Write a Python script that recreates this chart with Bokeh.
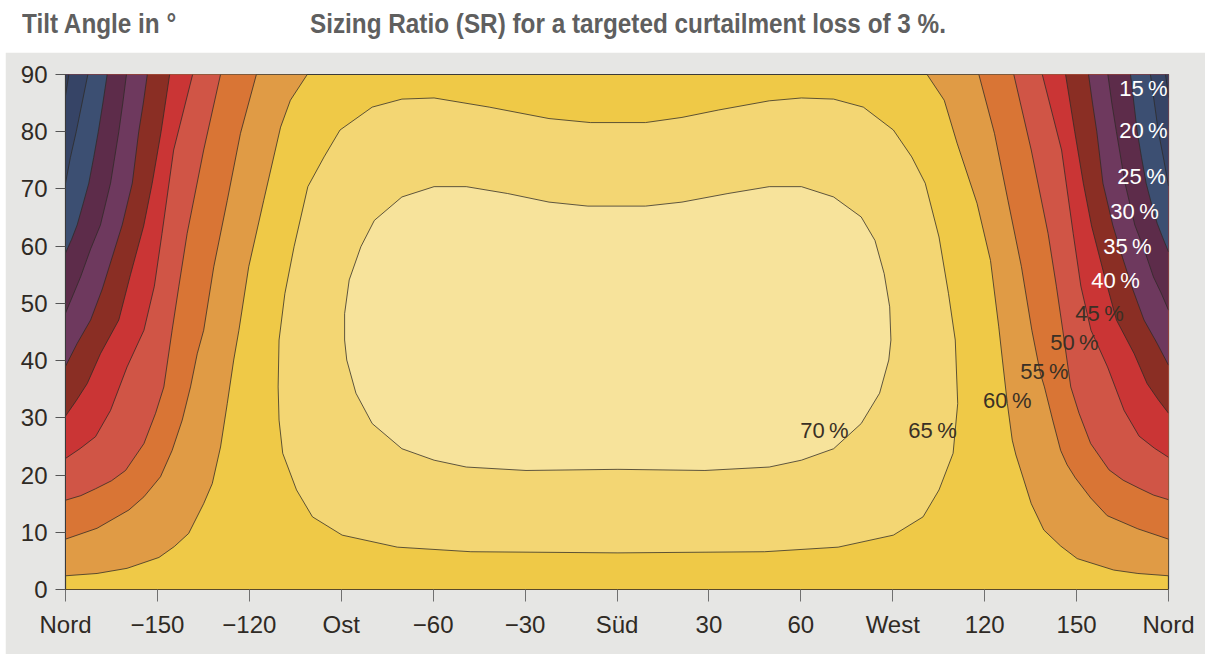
from bokeh.plotting import figure
from bokeh.models import FixedTicker, Div, ColumnDataSource
from bokeh.layouts import column
from bokeh.embed import file_html
from bokeh.resources import INLINE
from bokeh.core.properties import value

# ---------------- data ----------------
TITLE_LEFT = "Tilt Angle in °"
TITLE_MAIN = "Sizing Ratio (SR) for a targeted curtailment loss of 3 %."

X_TICKS = [-180, -150, -120, -90, -60, -30, 0, 30, 60, 90, 120, 150, 180]
X_TICK_LABELS = ["Nord", "\u2212150", "\u2212120", "Ost", "\u221260", "\u221230", "Süd",
                 "30", "60", "West", "120", "150", "Nord"]
Y_TICKS = [0, 10, 20, 30, 40, 50, 60, 70, 80, 90]

# contour lines (azimuth °, tilt °); left curves run from the left edge to the top edge
C15_LEFT = [(-180, 86.3), (-179.4, 88.3), (-178.9, 90)]
C20_LEFT = [(-180, 71.0), (-178.4, 75.5), (-176.5, 80.0), (-174.6, 85.0), (-172.7, 90)]
C25_LEFT = [(-180, 58.8), (-178.0, 61.2), (-176.2, 63.7), (-174.2, 67.5), (-172.4, 71.0),
            (-170.8, 75.5), (-169.3, 80.0), (-167.8, 85.0), (-166.4, 90)]
C30_LEFT = [(-180, 48.3), (-177.5, 51.5), (-175.1, 54.6), (-171.8, 59.5), (-168.6, 63.7),
            (-165.3, 71.0), (-162.6, 80.0), (-161.3, 85.0), (-160.1, 90)]
C35_LEFT = [(-180, 39.0), (-176.2, 43.0), (-171.8, 47.1), (-168.0, 52.5), (-164.8, 58.0),
            (-161.5, 63.7), (-158.2, 71.0), (-156.1, 80.0), (-154.6, 85.0), (-153.3, 90)]
C40_LEFT = [(-180, 30.3), (-176.5, 33.0), (-172.9, 36.0), (-168.6, 41.2), (-162.6, 47.1),
            (-158.8, 55.0), (-154.5, 63.5), (-151.7, 71.0), (-148.8, 80.0), (-146.0, 90)]
C45_LEFT = [(-180, 22.9), (-175.3, 24.6), (-170.2, 26.7), (-165.3, 31.3), (-159.9, 38.9),
            (-154.4, 45.3), (-151.0, 53.0), (-148.5, 62.2), (-144.7, 76.8), (-138.5, 90)]
C50_LEFT = [(-180, 15.6), (-175.0, 16.4), (-170.2, 17.6), (-165.0, 19.0), (-160.4, 20.8),
            (-154.4, 25.5), (-150.6, 30.8), (-147.9, 35.4), (-145.2, 45.3), (-143.0, 53.0),
            (-140.3, 62.2), (-134.9, 76.8), (-129.4, 90)]
C55_LEFT = [(-180, 8.8), (-169.7, 10.7), (-159.3, 13.9), (-154.4, 16.2), (-149.0, 19.7),
            (-145.2, 24.3), (-141.9, 29.6), (-139.2, 35.4), (-137.0, 41.2), (-134.9, 45.3),
            (-131.6, 56.4), (-127.2, 68.0), (-122.9, 79.7), (-117.7, 90)]
C60_LEFT = [(-180, 2.4), (-169.7, 2.8), (-159.9, 3.7), (-149.5, 5.6), (-144.5, 7.5),
            (-139.8, 9.8), (-134.9, 15.0), (-132.1, 18.5), (-129.4, 24.9), (-127.2, 32.5),
            (-125.1, 40.1), (-123.4, 45.3), (-120.2, 56.4), (-115.3, 68.0), (-109.8, 80.8),
            (-106.6, 85.5), (-101.1, 90)]

# right curves run from the right edge to the top edge
C15_RIGHT = [(180, 86.0), (179.5, 88.2), (179.0, 90)]
C20_RIGHT = [(180, 70.5), (178.5, 75.0), (176.7, 80.0), (175.4, 85.0), (174.1, 90)]
C25_RIGHT = [(180, 59.0), (178.1, 61.5), (176.3, 64.0), (174.4, 67.5), (172.7, 71.0),
             (171.2, 75.5), (169.8, 80.0), (168.7, 85.0), (167.6, 90)]
C30_RIGHT = [(180, 48.8), (177.6, 51.8), (175.1, 54.6), (172.0, 59.5), (169.0, 63.7),
             (165.8, 71.0), (163.0, 80.0), (161.5, 85.0), (160.2, 90)]
C35_RIGHT = [(180, 39.2), (176.3, 43.0), (172.0, 47.1), (168.3, 52.5), (165.0, 58.0),
             (161.8, 63.7), (158.6, 71.0), (156.6, 80.0), (155.2, 85.0), (153.9, 90)]
C40_RIGHT = [(180, 30.8), (176.6, 33.2), (173.0, 36.0), (168.8, 41.2), (163.0, 47.1),
             (159.0, 55.0), (154.9, 63.5), (152.2, 71.0), (149.4, 80.0), (146.4, 90)]
C45_RIGHT = [(180, 23.1), (175.4, 24.7), (170.4, 26.8), (165.5, 31.3), (160.1, 38.9),
             (154.7, 45.3), (151.4, 53.0), (148.9, 62.2), (145.1, 76.8), (138.8, 90)]
C50_RIGHT = [(180, 15.7), (175.1, 16.5), (170.4, 17.7), (165.2, 19.1), (160.6, 20.9),
             (154.6, 25.5), (150.8, 30.8), (148.1, 35.4), (145.5, 45.3), (143.4, 53.0),
             (140.7, 62.2), (135.2, 76.8), (129.5, 90)]
C55_RIGHT = [(180, 8.8), (170.0, 10.6), (160.0, 12.9), (154.6, 16.0), (149.6, 19.5),
             (146.9, 21.8), (144.8, 24.3), (142.2, 29.6), (139.5, 35.4), (138.2, 37.7),
             (135.4, 45.3), (132.0, 56.4), (127.6, 68.0), (123.2, 79.7), (118.1, 90)]
C60_RIGHT = [(180, 2.4), (170.0, 2.8), (162.1, 3.4), (150.2, 5.4), (144.8, 7.6),
             (139.3, 10.4), (135.2, 15.0), (132.8, 19.1), (130.2, 23.5), (129.0, 26.1),
             (127.4, 32.5), (125.8, 40.1), (124.6, 45.9), (121.9, 57.5), (117.5, 67.5),
             (111.0, 78.0), (106.8, 85.5), (101.2, 90)]

# closed contours
C65_LOOP = [(-90.4, 80.3), (-79.9, 84.3), (-70.2, 85.7), (-59.7, 85.9), (-41.7, 84.3),
            (-22.2, 82.3), (-8.7, 81.6), (9.3, 81.6), (21.2, 82.5), (33.2, 83.8),
            (49.7, 85.4), (60.2, 85.9), (70.7, 85.7), (80.4, 84.3), (90.2, 80.3),
            (96.2, 75.6), (100.6, 71.0), (105.1, 61.6), (108.2, 51.7), (110.4, 43.6),
            (111.2, 32.5), (109.7, 23.8), (105.1, 17.4), (99.9, 12.7), (90.2, 9.5),
            (72.2, 7.4), (48.2, 6.6), (0.3, 6.4), (-47.7, 6.6), (-71.7, 7.4),
            (-89.7, 9.5), (-99.4, 12.7), (-104.6, 17.4), (-109.1, 23.8), (-110.3, 29.6),
            (-110.6, 35.4), (-110.3, 43.6), (-108.4, 51.7), (-105.4, 59.9),
            (-100.9, 70.4), (-95.6, 75.6)]
C70_LOOP = [(-70.2, 68.6), (-59.7, 70.4), (-49.2, 70.4), (-35.7, 69.2), (-22.2, 67.7),
            (-9.5, 67.0), (9.3, 67.0), (21.2, 67.7), (36.2, 69.2), (49.7, 70.4),
            (60.2, 70.4), (70.7, 68.6), (79.7, 65.1), (84.2, 61.0), (87.2, 55.2),
            (89.0, 49.4), (89.4, 43.6), (88.7, 40.1), (85.7, 34.3), (79.7, 29.0),
            (70.7, 24.6), (60.2, 22.6), (49.7, 21.4), (28.7, 20.8), (0.3, 21.0),
            (-29.7, 20.8), (-49.2, 21.4), (-59.7, 22.6), (-70.2, 24.6), (-79.9, 29.0),
            (-85.2, 34.3), (-88.2, 40.1), (-88.9, 43.6), (-88.9, 48.2), (-87.4, 54.1),
            (-83.6, 59.9), (-79.2, 64.5)]

# band colours (value below 15 %, 15-20 %, ... , above 70 %)
BAND_COLORS = ["#323d5b", "#364466", "#3c4f72", "#5d2c4a", "#6e395e", "#8a2e24",
               "#ca3535", "#d05546", "#d97535", "#e09b45", "#efc947", "#f3d673", "#f7e39b"]
LEVELS = [15, 20, 25, 30, 35, 40, 45, 50, 55, 60, 65, 70]

# contour labels
LABEL_TEXT = ["15\u2009%", "20\u2009%", "25\u2009%", "30\u2009%", "35\u2009%", "40\u2009%",
              "45\u2009%", "50\u2009%", "55\u2009%", "60\u2009%", "65\u2009%", "70\u2009%"]
LABEL_AZ = [171.8, 171.8, 171.2, 168.9, 166.6, 162.7, 157.5, 149.3, 139.5, 127.4, 103.0, 67.7]
LABEL_TILT = [87.6, 80.2, 72.1, 66.1, 60.0, 54.0, 48.3, 43.2, 38.1, 33.0, 27.8, 27.8]
LABEL_COLOR = ["#ffffff"] * 6 + ["#3a3025"] * 6

# ---------------- styling ----------------
FONT = "Liberation Sans"
GREY_BG = "#e6e6e4"
TEXT_DARK = "#2f2a24"

LEFT_CURVES = {15: C15_LEFT, 20: C20_LEFT, 25: C25_LEFT, 30: C30_LEFT, 35: C35_LEFT,
               40: C40_LEFT, 45: C45_LEFT, 50: C50_LEFT, 55: C55_LEFT, 60: C60_LEFT}
RIGHT_CURVES = {15: C15_RIGHT, 20: C20_RIGHT, 25: C25_RIGHT, 30: C30_RIGHT, 35: C35_RIGHT,
                40: C40_RIGHT, 45: C45_RIGHT, 50: C50_RIGHT, 55: C55_RIGHT, 60: C60_RIGHT}

p = figure(width=1200, height=602, x_range=(-180, 180), y_range=(0, 90),
           output_backend="svg", toolbar_location=None, margin=(0, 0, 0, 5),
           min_border_left=60, min_border_right=37, min_border_top=22, min_border_bottom=65)
p.background_fill_color = BAND_COLORS[LEVELS.index(60) + 1]
p.border_fill_color = GREY_BG
p.outline_line_color = "#3a3a3a"
p.outline_line_width = 1.2
p.grid.visible = False

# corner regions: paint from 60 % down to 15 %
xs, ys, cols = [], [], []
for lev in [60, 55, 50, 45, 40, 35, 30, 25, 20, 15]:
    col = BAND_COLORS[LEVELS.index(lev)]
    lc = LEFT_CURVES[lev]
    xs.append([pt[0] for pt in lc] + [-180])
    ys.append([pt[1] for pt in lc] + [90])
    cols.append(col)
    rc = RIGHT_CURVES[lev]
    xs.append([pt[0] for pt in rc] + [180])
    ys.append([pt[1] for pt in rc] + [90])
    cols.append(col)
for loop, lev in [(C65_LOOP, 65), (C70_LOOP, 70)]:
    xs.append([pt[0] for pt in loop])
    ys.append([pt[1] for pt in loop])
    cols.append(BAND_COLORS[LEVELS.index(lev) + 1])

p.patches(xs=xs, ys=ys, fill_color=cols, line_color=None)

# contour lines
lx, ly = [], []
for lev in LEFT_CURVES:
    for c in (LEFT_CURVES[lev], RIGHT_CURVES[lev]):
        lx.append([pt[0] for pt in c])
        ly.append([pt[1] for pt in c])
for loop in (C65_LOOP, C70_LOOP):
    lx.append([pt[0] for pt in loop] + [loop[0][0]])
    ly.append([pt[1] for pt in loop] + [loop[0][1]])
p.multi_line(xs=lx, ys=ly, line_color="#2e2a26", line_width=0.9, line_alpha=0.85)

# labels
src = ColumnDataSource(dict(x=LABEL_AZ, y=LABEL_TILT, t=LABEL_TEXT, c=LABEL_COLOR))
p.text(x="x", y="y", text="t", text_color="c", source=src,
       text_font=value(FONT), text_font_size="22px",
       text_align="center", text_baseline="middle")

# axes
p.xaxis.ticker = FixedTicker(ticks=X_TICKS)
p.xaxis.major_label_overrides = {t: lab for t, lab in zip(X_TICKS, X_TICK_LABELS)}
p.yaxis.ticker = FixedTicker(ticks=Y_TICKS)
for ax in (p.xaxis[0], p.yaxis[0]):
    ax.major_label_text_font = FONT
    ax.major_label_text_font_size = "24px"
    ax.major_label_text_color = TEXT_DARK
    ax.major_tick_in = 0
    ax.minor_tick_line_color = None
p.xaxis.axis_line_color = "#5a4a2a"
p.xaxis.major_tick_line_color = "#707070"
p.xaxis.major_tick_out = 12
p.xaxis.major_label_standoff = 9
p.yaxis.axis_line_color = "#3a3a3a"
p.yaxis.major_tick_line_color = "#555555"
p.yaxis.major_tick_out = 10
p.yaxis.major_label_standoff = 8

span_style = ("position:absolute;top:11px;white-space:nowrap;transform:scaleX(0.9);"
              "transform-origin:0 0;")
title_html = (
    '<div style="position:relative;width:1205px;height:52px;background:#ffffff;'
    "font-family:'Liberation Sans',Arial,sans-serif;font-weight:bold;"
    'color:#5f5f5f;font-size:27px;line-height:27px;">'
    '<span style="left:22px;' + span_style + '">' + TITLE_LEFT + '</span>'
    '<span style="left:310px;' + span_style + '">' + TITLE_MAIN + '</span>'
    '</div>'
)
header = Div(text=title_html, width=1205, height=52, margin=(0, 0, 0, 0))

layout = column(header, p, spacing=0)
open("out.html", "w").write(file_html(layout, INLINE))
